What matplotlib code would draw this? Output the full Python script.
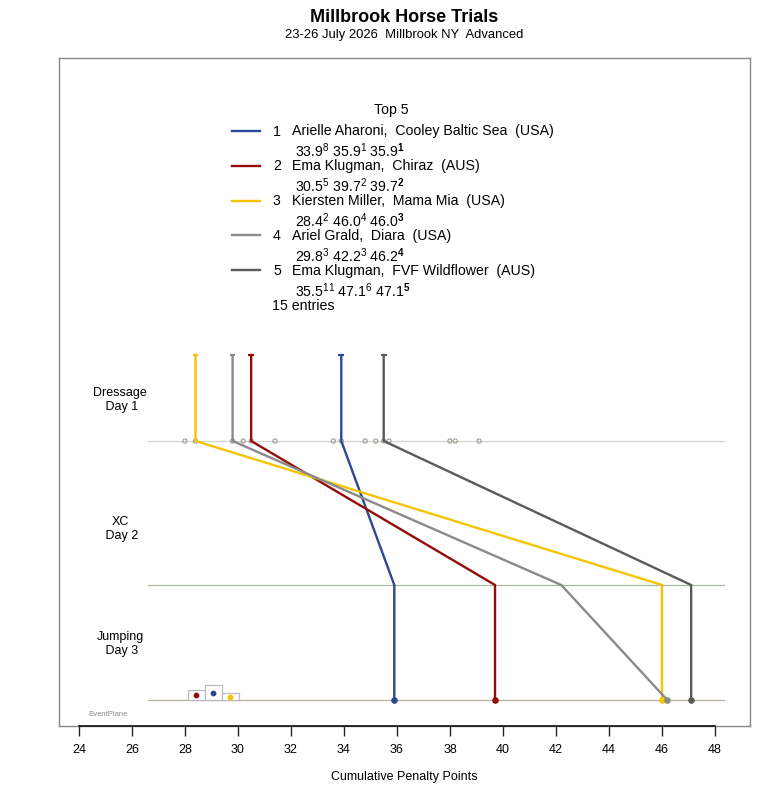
import matplotlib
matplotlib.use("Agg")
import matplotlib.pyplot as plt
from matplotlib.patches import Rectangle

plt.rcParams['font.family'] = ['Liberation Sans', 'DejaVu Sans']
plt.rcParams['mathtext.fontset'] = 'custom'
plt.rcParams['mathtext.rm'] = 'Liberation Sans'
plt.rcParams['mathtext.bf'] = 'Liberation Sans:bold'
plt.rcParams['mathtext.it'] = 'Liberation Sans:italic'

# ---- data ----
title = "Millbrook Horse Trials"
subtitle = "23-26 July 2026  Millbrook NY  Advanced"
stages = ["Dressage\n Day 1", "XC\n Day 2", "Jumping\n Day 3"]
riders = ["Arielle Aharoni,  Cooley Baltic Sea  (USA)",
          "Ema Klugman,  Chiraz  (AUS)",
          "Kiersten Miller,  Mama Mia  (USA)",
          "Ariel Grald,  Diara  (USA)",
          "Ema Klugman,  FVF Wildflower  (AUS)"]
colors = ["#2b4796", "#960a0a", "#f2c500", "#8a8a8a", "#5a5a5a"]
dressage = [33.9, 30.5, 28.4, 29.8, 35.5]
xc = [35.9, 39.7, 46.0, 42.2, 47.1]
final = [35.9, 39.7, 46.0, 46.2, 47.1]
rank_d = [8, 5, 2, 3, 11]
rank_xc = [1, 2, 4, 3, 6]
rank_f = [1, 2, 3, 4, 5]
others_dressage = [28.0, 30.2, 31.4, 33.6, 34.8, 35.2, 35.7, 38.0, 38.2, 39.1]
n_entries = 15
xticks = [24, 26, 28, 30, 32, 34, 36, 38, 40, 42, 44, 46, 48]
podium_order = [2, 1, 3]          # ranks shown left to right
podium_x = [28.12, 28.75, 29.40, 30.04]
podium_heights = [10, 15, 7]

# ---- layout (vertical positions in pixel-like units) ----
W, H = 780, 800
fig = plt.figure(figsize=(W / 100, H / 100), dpi=100)
L, R, T, B = 59, 750, 58, 726
ax = fig.add_axes([L / W, 1 - B / H, (R - L) / W, (B - T) / H])
x0 = 23.25
x1 = 49.32
ax.set_xlim(x0, x1)
ax.set_ylim(B, T)
y_top, y_d, y_xc, y_j = 355, 441, 585, 700
line_x0, line_x1 = 26.6, 48.35

for s in ['top', 'right', 'left']:
    ax.spines[s].set_color('#888888')
    ax.spines[s].set_linewidth(1.0)
ax.spines['bottom'].set_visible(False)
ax.set_yticks([])
ax.set_xticks(xticks)
ax.set_xticklabels([str(t) for t in xticks], fontsize=9)
ax.tick_params(axis='x', length=7, width=1, direction='out', pad=6, color='#222222')
ax.plot([xticks[0], xticks[-1]], [B, B], color='#111111', lw=1.2, clip_on=False, zorder=5)
ax.plot([x0, x1], [B, B], color='#888888', lw=1.0, clip_on=False, zorder=4)
ax.set_xlabel("Cumulative Penalty Points", fontsize=9, labelpad=11)

# stage lines
ax.plot([line_x0, line_x1], [y_d, y_d], color='#d4d4d4', lw=0.9, zorder=1)
ax.plot([line_x0, line_x1], [y_xc, y_xc], color='#a9b9a6', lw=0.9, zorder=1)
ax.plot([line_x0, line_x1], [y_j, y_j], color='#b9b19f', lw=0.9, zorder=1)

def px2x(p):
    return x0 + (p - L) / (R - L) * (x1 - x0)

# stage labels
for lab, yy in zip(stages, [400, 529, 644]):
    ax.text(px2x(120), yy, lab, ha='center', va='center', fontsize=9, linespacing=1.25)

# other entrants' dressage dots
all_d = others_dressage + dressage
ax.scatter(all_d, [y_d] * len(all_d), s=9, facecolors='none', edgecolors='#a09a8c',
           linewidths=0.8, zorder=2)

# rider paths
for i in range(5):
    xs = [dressage[i], dressage[i], xc[i], final[i]]
    ys = [y_top, y_d, y_xc, y_j]
    ax.plot(xs, ys, color=colors[i], lw=1.7, zorder=3, solid_joinstyle='miter')
    ax.plot([dressage[i] - 0.07, dressage[i] + 0.07], [y_top, y_top], color=colors[i],
            lw=1.5, zorder=3)
    ax.scatter([final[i]], [y_j], s=14, color=colors[i], zorder=4)

# podium
for k, rnk in enumerate(podium_order):
    xl, xr = podium_x[k], podium_x[k + 1]
    h = podium_heights[k]
    ax.add_patch(Rectangle((xl, y_j - h), xr - xl, h, facecolor='white',
                           edgecolor='#bbbbbb', lw=0.9, zorder=2))
    ax.scatter([(xl + xr) / 2], [y_j - h / 2], s=10, color=colors[rnk - 1], zorder=3)

ax.text(px2x(108), 714, "EventPlane", fontsize=5.5, color='#888888', ha='center', va='center')

# legend
fs = 10.2
ax.text(px2x(391), 114, "Top 5", fontsize=fs, ha='center', va='baseline')
for i in range(5):
    yy = 131 + i * 34.8
    ax.plot([px2x(232), px2x(260)], [yy, yy], color=colors[i], lw=1.7)
    ax.text(px2x(273), yy + 4.5, str(i + 1), fontsize=fs, ha='left', va='baseline')
    ax.text(px2x(292), yy + 4.5, riders[i], fontsize=fs, ha='left', va='baseline')
    sub = (f"{dressage[i]:.1f}$^{{{rank_d[i]}}}$ {xc[i]:.1f}$^{{{rank_xc[i]}}}$ "
           f"{final[i]:.1f}$^{{\\mathbf{{{rank_f[i]}}}}}$")
    ax.text(px2x(295), yy + 26.5, sub, fontsize=fs, ha='left', va='baseline')
ax.text(px2x(272), 310, f"{n_entries} entries", fontsize=fs, ha='left', va='baseline')

cx = (L + R) / 2 / W
fig.text(cx, 1 - 18 / H, title, fontsize=13, fontweight='bold', ha='center', va='center')
fig.text(cx, 1 - 35 / H, subtitle, fontsize=9.4, ha='center', va='center')

fig.savefig("out.png", dpi=100)
